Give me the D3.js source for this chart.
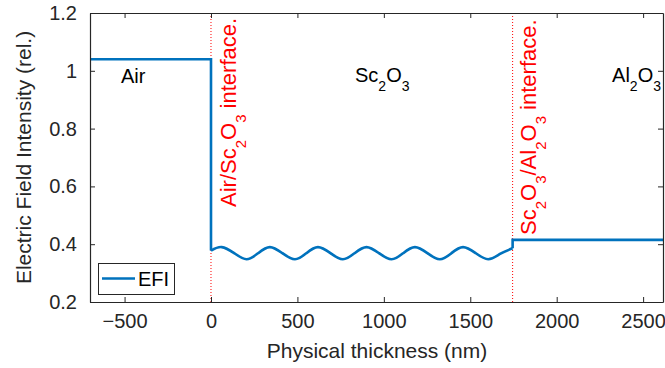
<!DOCTYPE html>
<html><head><meta charset="utf-8">
<script src="https://cdn.jsdelivr.net/npm/d3@7"></script>
<style>
body{margin:0;background:#fff;}
text{font-family:"Liberation Sans",Arial,Helvetica,sans-serif;}
</style></head>
<body><svg id="c" width="665" height="368"></svg>
<script>
// Data
const airSegment = [[-700,1.04],[0,1.04],[0,0.378]];
const scX = [0,62,134,206,273,341,413,486,552,619,691,763,831,900,972,1045,1112,1180,1252,1324,1391,1458,1531,1604,1675,1745];
const scY = [0.378,0.390,0.369,0.348,0.369,0.390,0.369,0.348,0.369,0.390,0.369,0.348,0.369,0.390,0.369,0.348,0.369,0.390,0.369,0.348,0.369,0.390,0.369,0.348,0.367,0.386];
const alSegment = [[1745,0.386],[1745,0.415],[2615,0.415]];
const interfaces = [0,1745];
const xTicks = [-500,0,500,1000,1500,2000,2500];
const yTicks = [0.2,0.4,0.6,0.8,1,1.2];
const xDomain = [-700,2615];
const yDomain = [0.2,1.2];

const svg = d3.select("#c");
const L=90, R=663, T=13, B=302;
const x = d3.scaleLinear().domain(xDomain).range([L,R]);
const y = d3.scaleLinear().domain(yDomain).range([B,T]);
const axisCol = "#262626";
const fs = 20;

// interface lines
svg.selectAll("line.intf").data(interfaces).join("line")
  .attr("x1",d=>x(d)).attr("x2",d=>x(d)).attr("y1",T).attr("y2",B)
  .attr("stroke","#ff0000").attr("stroke-width",1).attr("stroke-dasharray","1,2");

// EFI line
const blue="#0072BD";
const lin = d3.line().x(d=>x(d[0])).y(d=>y(d[1]));
svg.append("path").datum(airSegment).attr("d",lin).attr("fill","none").attr("stroke",blue).attr("stroke-width",2.6);
const osc = scX.map((v,i)=>[v,scY[i]]);
svg.append("path").datum(osc).attr("d",d3.line().x(d=>x(d[0])).y(d=>y(d[1])).curve(d3.curveNatural))
  .attr("fill","none").attr("stroke",blue).attr("stroke-width",2.6);
svg.append("path").datum(alSegment).attr("d",lin).attr("fill","none").attr("stroke",blue).attr("stroke-width",2.6);

// axes
const gx = svg.append("g").attr("transform",`translate(0,${B})`)
  .call(d3.axisBottom(x).tickValues(xTicks).tickSizeInner(-5).tickSizeOuter(0).tickPadding(12)
    .tickFormat(d=>d<0?"\u2212"+Math.abs(d):d));
const gxt = svg.append("g").attr("transform",`translate(0,${T})`)
  .call(d3.axisTop(x).tickValues(xTicks).tickSizeInner(-5).tickSizeOuter(0).tickFormat(""));
const gy = svg.append("g").attr("transform",`translate(${L},0)`)
  .call(d3.axisLeft(y).tickValues(yTicks).tickSizeInner(-5).tickSizeOuter(0).tickPadding(13)
    .tickFormat(d=>d===1?"1":d3.format(".1f")(d)));
const gyr = svg.append("g").attr("transform",`translate(${R},0)`)
  .call(d3.axisRight(y).tickValues(yTicks).tickSizeInner(-5).tickSizeOuter(0).tickFormat(""));
[gx,gxt,gy,gyr].forEach(g=>{
  g.select(".domain").attr("stroke",axisCol).attr("stroke-width",1.2);
  g.selectAll(".tick line").attr("stroke",axisCol).attr("stroke-width",1);
  g.selectAll(".tick text").attr("fill",axisCol).attr("font-size",fs).attr("font-family","Liberation Sans, Arial, sans-serif");
});

// axis titles
svg.append("text").attr("x",377).attr("y",358).attr("text-anchor","middle")
  .attr("font-size",21).attr("fill",axisCol).text("Physical thickness (nm)");
svg.append("text").attr("transform",`translate(31,${(T+B)/2}) rotate(-90)`).attr("text-anchor","middle")
  .attr("font-size",21).attr("fill",axisCol).text("Electric Field Intensity (rel.)");

// helper for text with subscripts: parts [[text, sub?, back?],...]
function rich(sel, parts, subSize, shift){
  parts.forEach(p=>{
    const ts = sel.append("tspan").text(p[0]);
    if(p[1]){ ts.attr("font-size",subSize).attr("dy",shift); }
    else if(p[2]){ ts.attr("dy",-shift); }
  });
  return sel;
}
// region labels
rich(svg.append("text").attr("x",121).attr("y",83).attr("font-size",fs).attr("fill","#000"),[["Air"]],14,9);
rich(svg.append("text").attr("x",355).attr("y",82).attr("font-size",fs).attr("fill","#000"),
  [["Sc"],["2",1],["O",0,1],["3",1]],14,9);
rich(svg.append("text").attr("x",661).attr("y",82).attr("text-anchor","end").attr("font-size",fs).attr("fill","#000"),
  [["Al"],["2",1],["O",0,1],["3",1]],14,9);

// interface labels (rotated)
rich(svg.append("text").attr("transform",`translate(236,207) rotate(-90)`).attr("font-size",22).attr("fill","#ff0000"),
  [["Air/Sc"],["2",1],["O",0,1],["3",1],[" interface.",0,1]],15,10);
rich(svg.append("text").attr("transform",`translate(536,235) rotate(-90)`).attr("font-size",22).attr("fill","#ff0000"),
  [["Sc"],["2",1],["O",0,1],["3",1],["/Al",0,1],["2",1],["O",0,1],["3",1],[" interface.",0,1]],15,10);

// legend
const lg = svg.append("g");
lg.append("rect").attr("x",98.5).attr("y",263.5).attr("width",76).attr("height",31)
  .attr("fill","#fff").attr("stroke",axisCol).attr("stroke-width",1);
lg.append("line").attr("x1",102).attr("x2",135).attr("y1",278.5).attr("y2",278.5).attr("stroke",blue).attr("stroke-width",2.6);
lg.append("text").attr("x",138).attr("y",286).attr("font-size",fs).attr("fill","#000").text("EFI");
</script></body></html>
